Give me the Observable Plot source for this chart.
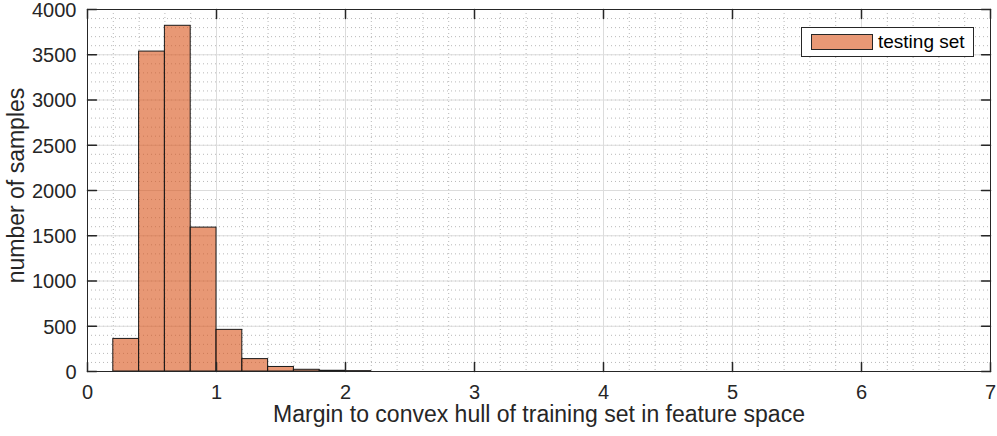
<!DOCTYPE html>
<html>
<head>
<meta charset="utf-8">
<script src="https://cdn.jsdelivr.net/npm/d3@7"></script>
<script src="https://cdn.jsdelivr.net/npm/@observablehq/plot@0.6"></script>
<style>
  html, body { margin: 0; padding: 0; background: #fff; }
  #wrap { position: relative; width: 997px; height: 436px; font-family: "Liberation Sans", Arial, Helvetica, sans-serif; }
  #legend { position: absolute; left: 801px; top: 27px; width: 173px; height: 30px; border: 1px solid #262626; background: #fff; box-sizing: border-box; }
  #legend .sw { position: absolute; left: 9px; top: 6px; width: 62px; height: 16px; box-sizing: border-box; border: 1px solid #262626; background: rgb(232,152,117); }
  #legend .lb { position: absolute; left: 76px; top: 2px; font-size: 19px; color: #000; line-height: 24px; }
</style>
</head>
<body>
<div id="wrap"><div id="chart"></div>
<div id="legend"><div class="sw"></div><div class="lb">testing set</div></div>
</div>
<script>
// Histogram bins (left edges, width 0.2) and counts
const binStart = [0.2, 0.4, 0.6, 0.8, 1.0, 1.2, 1.4, 1.6, 1.8, 2.0];
const binWidth = 0.2;
const counts   = [360, 3535, 3820, 1590, 460, 137, 50, 19, 8, 4];

const xTicks = [0, 1, 2, 3, 4, 5, 6, 7];
const yTicks = [0, 500, 1000, 1500, 2000, 2500, 3000, 3500, 4000];
const xMinor = d3.range(0, 7.0001, 0.2).map(v => +v.toFixed(2));
const yMinor = d3.range(0, 4001, 100);

const bins = binStart.map((s, i) => ({x1: s, x2: +(s + binWidth).toFixed(2), y: counts[i]}));

const axisColor = "#262626";
const tickLen = 9;

const chart = Plot.plot({
  width: 997,
  height: 436,
  marginLeft: 87,
  marginRight: 7,
  marginTop: 9,
  marginBottom: 65,
  style: {fontFamily: "'Liberation Sans', Arial, Helvetica, sans-serif", background: "#fff", color: axisColor, overflow: "visible"},
  x: {domain: [0, 7]},
  y: {domain: [0, 4000]},
  marks: [
    // minor grid (dotted)
    Plot.ruleX(xMinor, {stroke: "#b8b8b8", strokeDasharray: "1,3", strokeWidth: 1}),
    Plot.ruleY(yMinor, {stroke: "#b8b8b8", strokeDasharray: "1,3", strokeWidth: 1}),
    // major grid
    Plot.ruleX(xTicks, {stroke: "#dcdcdc", strokeWidth: 1}),
    Plot.ruleY(yTicks, {stroke: "#dcdcdc", strokeWidth: 1}),
    // bars
    Plot.rectY(bins, {x1: "x1", x2: "x2", y: "y", fill: "#D95319", fillOpacity: 0.6, stroke: "#1a1a1a", strokeWidth: 1}),
    // box
    Plot.frame({stroke: axisColor, strokeWidth: 1}),
    // inward ticks
    Plot.vector(xTicks, {x: d => d, y: 0, length: tickLen, rotate: 0, anchor: "start", r: 0, stroke: axisColor}),
    Plot.vector(xTicks, {x: d => d, y: 4000, length: tickLen, rotate: 180, anchor: "start", r: 0, stroke: axisColor}),
    Plot.vector(yTicks, {y: d => d, x: 0, length: tickLen, rotate: 90, anchor: "start", r: 0, stroke: axisColor}),
    Plot.vector(yTicks, {y: d => d, x: 7, length: tickLen, rotate: -90, anchor: "start", r: 0, stroke: axisColor}),
    // tick labels
    Plot.axisX(xTicks, {tickSize: 0, tickPadding: 13, fontSize: 20, label: null, tickFormat: d => String(d), fill: axisColor}),
    Plot.axisY(yTicks, {tickSize: 0, tickPadding: 11, fontSize: 20, label: null, tickFormat: d => String(d), fill: axisColor, dy: 1}),
    // axis labels
    Plot.text(["Margin to convex hull of training set in feature space"], {frameAnchor: "bottom", dy: 50, fontSize: 23, fill: axisColor}),
    Plot.text(["number of samples"], {frameAnchor: "left", textAnchor: "middle", dx: -71, dy: -5, rotate: -90, fontSize: 23, fill: axisColor})
  ]
});
document.getElementById("chart").appendChild(chart);
</script>
</body>
</html>
